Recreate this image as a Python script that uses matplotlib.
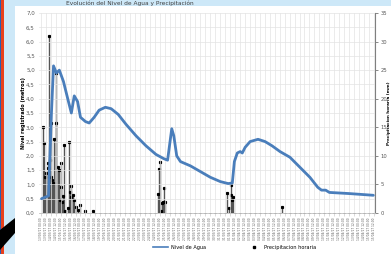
import matplotlib
matplotlib.use("Agg")
import matplotlib.pyplot as plt
from matplotlib.patches import Rectangle, Polygon
from matplotlib.ticker import FuncFormatter
import pandas as pd

# water level readings (hours from start, metres)
level_hours = [2, 19, 26, 31, 38, 45, 55, 67, 74, 81, 89, 96, 108, 117, 129, 141, 156,
               170, 187, 206, 230, 254, 278, 297, 306, 311, 316, 321, 328, 337, 361,
               385, 409, 433, 452, 462, 467, 474, 481, 486, 493, 505, 524, 541, 558,
               577, 601, 625, 649, 668, 677, 687, 696, 744, 802]
level_m = [0.5, 0.6, 3.5, 5.15, 4.9, 5.0, 4.6, 3.9, 3.5, 4.1, 3.9, 3.35, 3.2, 3.15, 3.35,
           3.6, 3.7, 3.65, 3.45, 3.1, 2.7, 2.35, 2.05, 1.9, 1.85, 2.4, 2.95, 2.7, 2.0,
           1.8, 1.65, 1.45, 1.25, 1.1, 1.03, 1.05, 1.8, 2.1, 2.15, 2.1, 2.3, 2.5, 2.58,
           2.5, 2.35, 2.15, 1.95, 1.6, 1.25, 0.9, 0.8, 0.8, 0.72, 0.68, 0.62]

# hourly rainfall (hours from start, mm)
rain_hours = [6, 9, 10, 14, 17, 18, 20, 22, 25, 26, 28, 30, 33, 36, 38, 41, 44, 46, 49,
              50, 52, 54, 56, 58, 65, 68, 70, 73, 74, 78, 81, 86, 90, 94, 108, 127,
              282, 285, 287, 290, 292, 294, 297, 299,
              450, 454, 458, 459, 462, 464, 581]
rain_mm = [15.0, 12.2, 6.3, 7.0, 8.7, 7.9, 31.0, 9.2, 15.7, 6.3, 5.8, 5.2, 13.0, 24.5,
           15.7, 8.0, 7.5, 2.2, 4.6, 8.7, 2.0, 3.0, 11.9, 0.3, 0.8, 12.5, 3.7, 2.8, 4.7,
           3.2, 2.2, 1.1, 0.5, 1.4, 0.4, 0.4,
           3.3, 7.7, 9.0, 0.3, 1.8, 1.9, 4.3, 2.0,
           3.5, 0.9, 4.9, 3.1, 2.3, 2.8, 1.0]
dry_hours = [132, 144, 156, 168, 180, 192, 204, 216, 228, 240, 252, 264, 276, 312, 324,
             336, 348, 360, 372, 384, 396, 408, 420, 432, 444, 468, 480, 492, 504, 516,
             528, 540, 552, 564, 576, 588, 600, 612, 624, 636, 648, 660, 672, 684, 696,
             708, 720, 732, 744, 756, 768, 780, 792, 802]

start = pd.Timestamp("2017-03-13 00:00")
tick_hours = list(range(0, 805, 12))
tick_labels = [(start + pd.Timedelta(hours=h)).strftime("%d/%m/%y %H:%M") for h in tick_hours]

W, H = 391, 254
fig = plt.figure(figsize=(W / 100, H / 100), dpi=100)
fig.patch.set_facecolor("#cde8f8")

# window frame bits around the chart (kept behind the axes)
fig.patches.append(Rectangle((15 / W, 0), 1 - 15 / W, 1 - 6 / H, transform=fig.transFigure,
                             facecolor="white", edgecolor="none", zorder=-5))
fig.patches.append(Rectangle((1 / W, 0), 3 / W, 1, transform=fig.transFigure,
                             facecolor="#e8401c", edgecolor="none", zorder=-5))
fig.patches.append(Rectangle((0, 0), 1 / W, 1, transform=fig.transFigure,
                             facecolor="#2a5db0", edgecolor="none", zorder=-5))
fig.patches.append(Polygon([(0, 1 - 230 / H), (15 / W, 1 - 218 / H), (15 / W, 1 - 233 / H),
                            (0, 1 - 250 / H)], closed=True, transform=fig.transFigure,
                           facecolor="black", edgecolor="none", zorder=-4))

ax = fig.add_axes([39 / W, 1 - 213 / H, 336 / W, 200 / H])
ax.set_facecolor("none")
ax2 = ax.twinx()
ax2.set_facecolor("none")

ax.set_xlim(-4, 806)
ax.set_ylim(0, 7)
ax2.set_ylim(0, 35)
ax.set_yticks([i * 0.5 for i in range(15)])
ax2.set_yticks(range(0, 36, 5))
ax.yaxis.set_major_formatter(FuncFormatter(lambda v, p: f"{v:.1f}".replace(".", ",")))
ax.set_xticks(tick_hours)
ax.set_xticklabels(tick_labels, rotation=90, fontsize=2.1, color="#595959")

ax.grid(True, color="#e3e3e3", lw=0.5)
ax.set_axisbelow(True)
for s in ["top", "left", "right"]:
    ax.spines[s].set_visible(False)
for s in ["top", "left"]:
    ax2.spines[s].set_visible(False)
ax.spines["bottom"].set_color("#bfbfbf")
ax.spines["bottom"].set_linewidth(0.6)
ax2.spines["bottom"].set_visible(False)
ax2.spines["right"].set_color("#7f7f7f")
ax2.spines["right"].set_linewidth(0.8)

ax.tick_params(axis="y", labelsize=4, colors="#595959", length=0, pad=3)
ax.tick_params(axis="x", length=2, width=0.4, color="#bfbfbf", pad=1)
ax2.tick_params(axis="y", labelsize=3.8, colors="#595959", length=2, width=0.5, pad=2)

fig.text(24 / W, 1 - 113 / H, "Nivel registrado (metros)", fontsize=3.6, fontweight="bold",
         rotation=90, ha="center", va="center")
fig.text(389 / W, 1 - 113 / H, "Precipitacion horaria (mm)", fontsize=3.0, fontweight="bold",
         rotation=90, ha="center", va="center")

# rainfall drop lines with black point markers
ax2.vlines(rain_hours, 0, rain_mm, colors="#555555", lw=1.0, zorder=2)
ax2.plot(rain_hours, rain_mm, ls="none", marker="s", ms=1.3, color="black", zorder=3)
ax2.plot(dry_hours, [0] * len(dry_hours), ls="none", marker="_", ms=2, mew=0.6,
         color="#404040", zorder=3)

ax.set_zorder(ax2.get_zorder() + 1)
ax.plot(level_hours, level_m, color="#4a7ebb", lw=2.0, solid_capstyle="round", zorder=4)

# legend
lh = ax.plot([], [], color="#4a7ebb", lw=1.2, label="Nivel de Agua")[0]
ph = ax.plot([], [], ls="none", marker="s", ms=2, color="black", label="Precipitacion horaria")[0]
fig.legend(handles=[lh, ph], loc="center", bbox_to_anchor=(235 / W, 1 - 247 / H), ncol=2,
           fontsize=3.6, frameon=False, handlelength=3, columnspacing=8, handletextpad=0.6,
           borderpad=0.1)

fig.text(130 / W, 1 - 3 / H, "Evolución del Nivel de Agua y Precipitación", fontsize=4.2,
         ha="center", va="center", color="#404040")

fig.savefig("out.png", dpi=100, facecolor=fig.get_facecolor())
